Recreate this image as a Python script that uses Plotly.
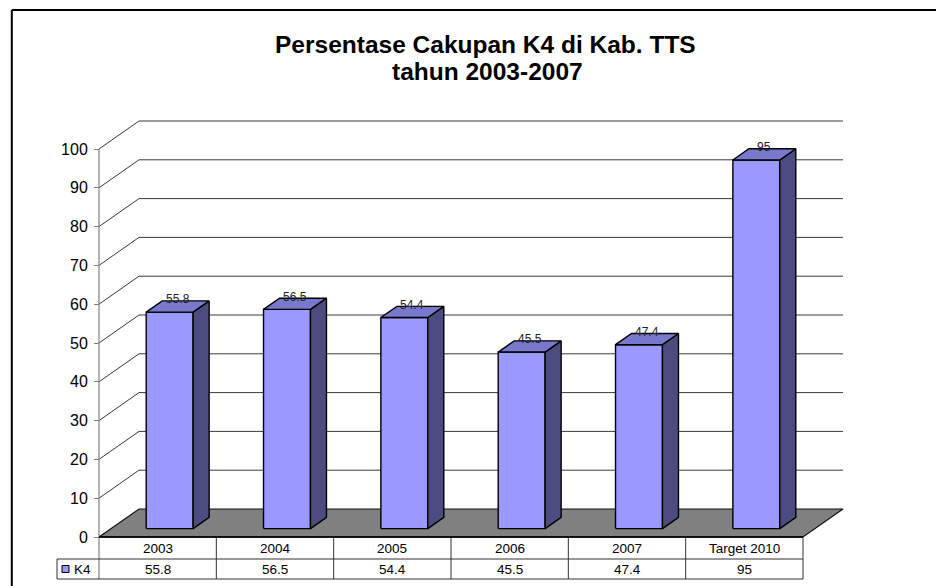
import plotly.graph_objects as go

# ---------------- data ----------------
categories = ["2003", "2004", "2005", "2006", "2007", "Target 2010"]
k4_values = [55.8, 56.5, 54.4, 45.5, 47.4, 95]
series_name = "K4"
y_ticks = [0, 10, 20, 30, 40, 50, 60, 70, 80, 90, 100]
title_line1 = "Persentase Cakupan K4 di Kab. TTS"
title_line2 = "tahun 2003-2007"

# ---------------- geometry (layout only) ----------------
W, H = 944, 586
OFF = 8                          # page body margin
X0_PX, XN_PX = 99 - OFF, 803 - OFF   # front plane extent of category slots
Y0_PX, YMAX_PX = 537 - OFF, 149 - OFF  # pixel rows of 0 and 100 on the front plane
n = len(categories)
px_x = (XN_PX - X0_PX) / n
px_y = (Y0_PX - YMAX_PX) / 100.0
KX = 40 / px_x                   # depth offset (x units)
KY = 28 / px_y                   # depth offset (value units)
x_range = [-X0_PX / px_x, (W - X0_PX) / px_x]
y_range = [-(H - Y0_PX) / px_y, Y0_PX / px_y]

ROW1 = -22 / px_y
ROW2 = -42 / px_y
LEG_X = (57 - OFF - X0_PX) / px_x

FONT = "Arial, Liberation Sans, sans-serif"
FRONT = "#9999FF"
TOP = "#7878CC"
SIDE = "#4C4C80"


def proj(x, v, d):
    return x + d * KX, v + d * KY


fig = go.Figure()

# back wall + side wall gridlines
gx, gy = [], []
for t in y_ticks:
    if t == 0:
        continue
    for (x, d) in [(0, 0), (0, 1), (n, 1)]:
        px, py = proj(x, t, d)
        gx.append(px)
        gy.append(py)
    gx.append(None)
    gy.append(None)
fig.add_trace(go.Scatter(x=gx, y=gy, mode="lines",
                         line=dict(color="#3a3a3a", width=1),
                         hoverinfo="skip", showlegend=False))

# floor
fx, fy = [], []
for (x, d) in [(0, 0), (n, 0), (n, 1), (0, 1), (0, 0)]:
    px, py = proj(x, 0, d)
    fx.append(px)
    fy.append(py)
fig.add_trace(go.Scatter(x=fx, y=fy, mode="lines", fill="toself",
                         fillcolor="#808080", line=dict(color="#111111", width=1.2),
                         hoverinfo="skip", showlegend=False))

# 3D bars
W0, W1 = 0.3, 0.7
D0, D1 = 0.3, 0.7
for i, v in enumerate(k4_values):
    x0, x1 = i + W0, i + W1
    faces = [
        ([(x0, 0, D0), (x1, 0, D0), (x1, v, D0), (x0, v, D0), (x0, 0, D0)], FRONT),
        ([(x1, 0, D0), (x1, 0, D1), (x1, v, D1), (x1, v, D0), (x1, 0, D0)], SIDE),
        ([(x0, v, D0), (x1, v, D0), (x1, v, D1), (x0, v, D1), (x0, v, D0)], TOP),
    ]
    for pts, col in faces:
        xs, ys = zip(*[proj(*p) for p in pts])
        fig.add_trace(go.Scatter(x=list(xs), y=list(ys), mode="lines", fill="toself",
                                 fillcolor=col, line=dict(color="#000000", width=1.4),
                                 name=series_name, hoverinfo="skip", showlegend=False))

# y axis line (front plane)
fig.add_trace(go.Scatter(x=[0, 0], y=[ROW2, y_ticks[-1]], mode="lines",
                         line=dict(color="#808080", width=1.2),
                         hoverinfo="skip", showlegend=False))

# data table lines
tx, ty = [], []
for (a, b) in [((0, 0), (n, 0)), ((LEG_X, ROW1), (n, ROW1)), ((LEG_X, ROW2), (n, ROW2)),
               ((LEG_X, ROW1), (LEG_X, ROW2))]:
    tx += [a[0], b[0], None]
    ty += [a[1], b[1], None]
for i in range(1, n + 1):
    tx += [i, i, None]
    ty += [0, ROW2, None]
fig.add_trace(go.Scatter(x=tx, y=ty, mode="lines",
                         line=dict(color="#333333", width=1),
                         hoverinfo="skip", showlegend=False))
# front edge of floor (thicker)
fig.add_trace(go.Scatter(x=[0, n], y=[0, 0], mode="lines",
                         line=dict(color="#000000", width=1.6),
                         hoverinfo="skip", showlegend=False))

# legend key in table
fig.add_trace(go.Scatter(x=[LEG_X + 8.5 / px_x], y=[(ROW1 + ROW2) / 2], mode="markers",
                         marker=dict(symbol="square", size=7, color=FRONT,
                                     line=dict(color="#000000", width=1)),
                         hoverinfo="skip", showlegend=False))

annotations = []
# table texts
for i, (c, v) in enumerate(zip(categories, k4_values)):
    annotations.append(dict(x=i + 0.5, y=ROW1 / 2, xref="x", yref="y", text=c,
                            xanchor="center", yanchor="middle",
                            showarrow=False, font=dict(family=FONT, size=13.5, color="#000")))
    annotations.append(dict(x=i + 0.5, y=(ROW1 + ROW2) / 2, xref="x", yref="y", text=str(v),
                            xanchor="center", yanchor="middle",
                            showarrow=False, font=dict(family=FONT, size=13.5, color="#000")))
annotations.append(dict(x=LEG_X + 15 / px_x, y=(ROW1 + ROW2) / 2, xref="x", yref="y",
                        text=series_name, xanchor="left", yanchor="middle", showarrow=False,
                        font=dict(family=FONT, size=13.5, color="#000")))
# data labels on bars
for i, v in enumerate(k4_values):
    lx, _ = proj(i + 0.5, v, 0.5)
    _, ly = proj(i + 0.5, v, D1)
    annotations.append(dict(x=lx, y=ly, xref="x", yref="y", text=str(v), showarrow=False,
                            xanchor="center", yanchor="middle",
                            yshift=1.5, font=dict(family=FONT, size=12, color="#222")))
# title
annotations.append(dict(x=(485 - OFF) / W, y=1 - (44 - OFF) / H, xref="paper", yref="paper",
                        text="<b>" + title_line1 + "</b>", xanchor="center", yanchor="middle",
                        showarrow=False, font=dict(family=FONT, size=24.5, color="#000")))
annotations.append(dict(x=(487 - OFF) / W, y=1 - (72 - OFF) / H, xref="paper", yref="paper",
                        text="<b>" + title_line2 + "</b>", xanchor="center", yanchor="middle",
                        showarrow=False, font=dict(family=FONT, size=24.5, color="#000")))

fig.update_layout(
    width=W, height=H,
    margin=dict(l=0, r=0, t=0, b=0),
    paper_bgcolor="white", plot_bgcolor="white",
    showlegend=False,
    xaxis=dict(range=x_range, visible=False, fixedrange=True),
    yaxis=dict(range=y_range, tickvals=y_ticks, ticktext=[str(t) for t in y_ticks],
               anchor="free", position=X0_PX / W, side="left",
               ticks="outside", ticklen=5, tickcolor="#808080", tickwidth=1,
               ticklabelstandoff=3,
               showline=False, showgrid=False, zeroline=False, automargin=False,
               tickfont=dict(family=FONT, size=16, color="#000"), fixedrange=True),
    annotations=annotations,
    shapes=[
        dict(type="line", xref="paper", yref="paper", x0=(11.8 - OFF) / W, x1=(11.8 - OFF) / W,
             y0=-0.1, y1=1 - (10 - OFF) / H, line=dict(color="#000", width=2)),
        dict(type="line", xref="paper", yref="paper", x0=(11.8 - OFF) / W, x1=1.1,
             y0=1 - (10 - OFF) / H, y1=1 - (10 - OFF) / H, line=dict(color="#000", width=2)),
    ],
)

fig.write_html("out.html")
